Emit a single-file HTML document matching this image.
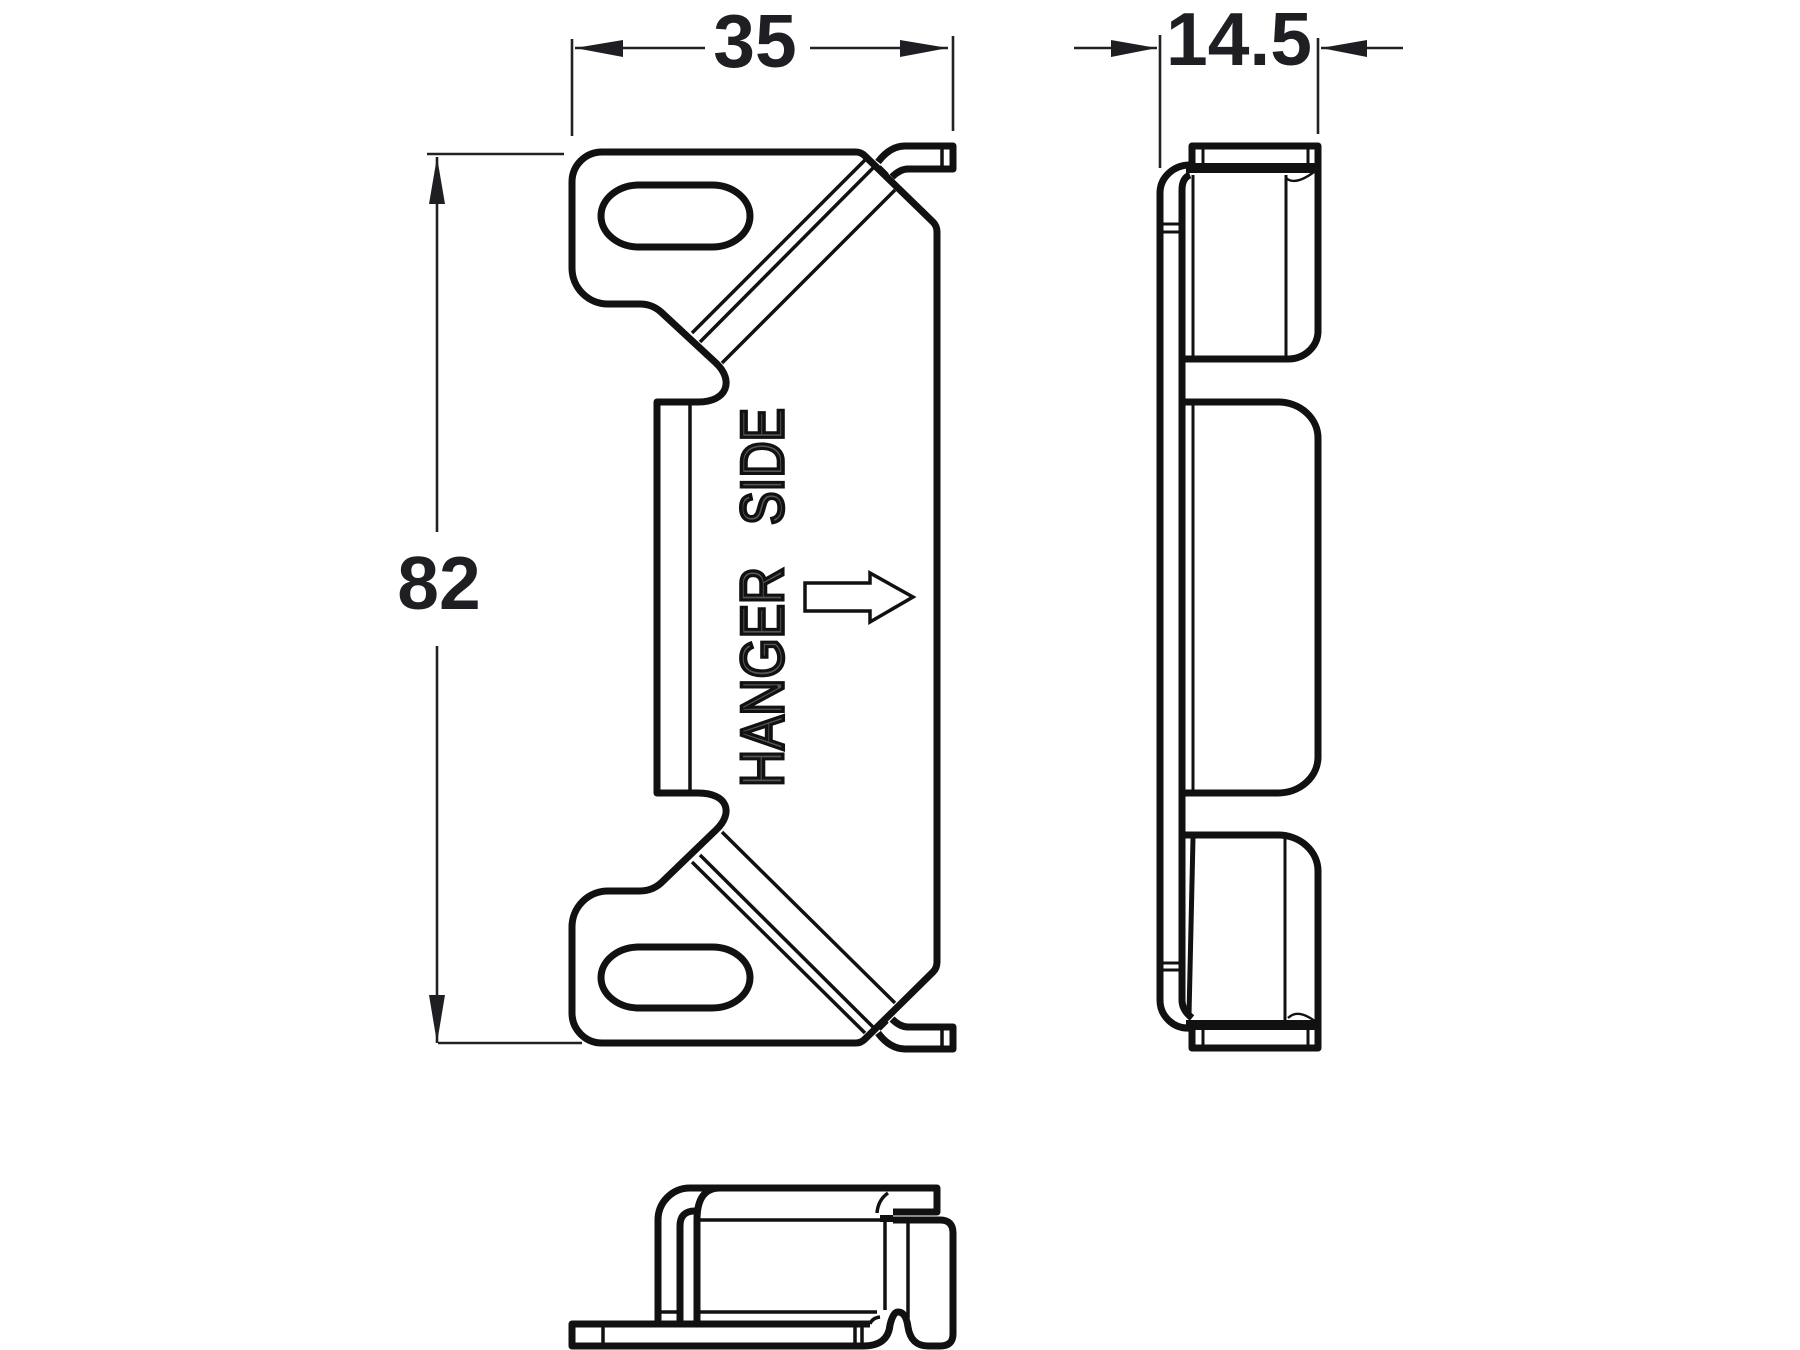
<!DOCTYPE html>
<html><head><meta charset="utf-8"><title>Hanger bracket</title>
<style>html,body{margin:0;padding:0;background:#fff}svg{display:block}
.t{font-family:"Liberation Sans",sans-serif;font-weight:bold;font-size:75px;fill:#1f1f23;text-anchor:middle}
.h{font-family:"Liberation Sans",sans-serif;font-size:60px;fill:#555;stroke:#111;stroke-width:3.6}
</style></head><body>
<svg xmlns="http://www.w3.org/2000/svg" width="1800" height="1350" viewBox="0 0 1800 1350">
<rect width="1800" height="1350" fill="#fff"/>
<!-- dimensions -->
<g stroke="#222" stroke-width="2.6" fill="none">
<path d="M572 39V136M953 36V131M575 48H705M810 48H948"/>
<path d="M1160 35V168M1318 38V134M1074 48H1157M1321 48H1403"/>
<path d="M427 154H564M437 157V532M437 646V1043M438 1043H582"/>
</g>
<g fill="#1f1f23">
<path d="M575 48L623 40V57ZM948 48L900 40V57Z"/>
<path d="M1157 48L1111 40V57ZM1321 48L1367 40V57Z"/>
<path d="M437 157L429 204H445ZM437 1043L429 995H445Z"/>
</g>
<text class="t" x="755" y="67">35</text>
<text class="t" x="1239" y="65">14.5</text>
<text class="t" x="439" y="609">82</text>

<!-- front view -->
<g fill="none" stroke="#111" stroke-width="7" stroke-linejoin="round">
<path d="M602 152H856Q861 152 865 156L933 222Q937 226 937 232V962Q937 968 933 972L865 1039Q861 1043 856 1043H602A30 30 0 0 1 572 1013V927A36 36 0 0 1 608 891H640Q652 891 661 883L716 830C734 813 728 793 698 793H657V402H698C728 402 734 380 716 363L661 312Q652 304 640 304H608A36 36 0 0 1 572 268V182A30 30 0 0 1 602 152Z"/>
<rect x="601" y="185" width="149" height="62" rx="38" ry="31"/>
<rect x="601" y="947" width="149" height="61" rx="38" ry="30.5"/>
<path d="M878 162Q890 146 905 146H953V169H908Q900 169 892 177"/>
<path d="M878 1033Q890 1049 905 1049H953V1027H908Q900 1027 892 1019"/>
</g>
<g fill="none" stroke="#111" stroke-width="3.5">
<path d="M692 333L865 160M700 342L873 168M722 363L895 190"/>
<path d="M692 862L865 1033M700 855L873 1027M722 832L895 1003"/>
<path d="M690 403V792M942 147V168M942 1028V1048"/>
<path d="M880 166L888 174M880 1030L888 1022" stroke-width="2"/>
</g>
<text class="h" transform="translate(783,787) rotate(-90)" textLength="220" lengthAdjust="spacingAndGlyphs">HANGER</text>
<text class="h" transform="translate(783,525) rotate(-90)" textLength="117" lengthAdjust="spacingAndGlyphs">SIDE</text>
<path d="M805 583H870V573L913 597L870 622V611H805Z" fill="#fff" stroke="#111" stroke-width="3.5"/>

<!-- side view -->
<g fill="none" stroke="#111" stroke-width="7" stroke-linejoin="round">
<path d="M1192 168V146H1318V331A30 28 0 0 1 1288 359H1182"/>
<path d="M1192 1028V1048H1318V871A40 36 0 0 0 1278 835H1182"/>
<path d="M1182 402H1278A40 36 0 0 1 1318 438V757A40 36 0 0 1 1278 793H1182"/>
<path d="M1160 1000V192A30 28 0 0 1 1190 165"/>
<path d="M1160 1000A28 28 0 0 0 1190 1028"/>
<path d="M1182 190Q1182 178 1190 175M1182 190V1000Q1182 1010 1192 1018"/>
<path d="M1186 168H1318" stroke-width="10"/>
<path d="M1186 1025H1318" stroke-width="10"/>
</g>
<g fill="none" stroke="#111" stroke-width="3">
<path d="M1203 148V165M1308 148V165M1203 1030V1046M1308 1030V1046"/>
<path d="M1193 175V357M1286 175V357M1193 403V792M1285 838V1020"/>
<path d="M1161 224H1181M1161 232H1181M1161 963H1181M1161 970H1181"/>
<path d="M1286 178Q1295 186 1314 172M1288 1018Q1298 1008 1316 1022" stroke-width="2.4"/>
</g>
<path d="M1193 838L1189 1015" stroke="#111" stroke-width="5" fill="none"/>

<!-- bottom view -->
<g fill="none" stroke="#111" stroke-width="7" stroke-linejoin="round">
<path d="M870 1324H572V1346H863Q888 1346 890 1325Q893 1312 898 1312Q906 1312 908 1327Q911 1346 928 1346H940Q953 1346 953 1334V1233Q953 1220 940 1220H893"/>
<path d="M658 1324V1220A32 32 0 0 1 690 1188H937V1212H893"/>
<path d="M680 1324V1226Q680 1211 695 1211"/>
<path d="M697 1324V1220Q697 1188 720 1188"/>
</g>
<g fill="none" stroke="#111" stroke-width="3.5">
<path d="M697 1220H880M697 1312H877M660 1312H680M885 1220V1310M908 1222V1318"/>
<path d="M603 1326V1344M855 1326V1344M862 1326V1344"/>
<path d="M888 1193Q878 1200 877 1213M880 1317Q872 1318 870 1324"/>
</g>
<path d="M880 1215H893V1222H880Z" fill="#111"/>
</svg>
</body></html>
